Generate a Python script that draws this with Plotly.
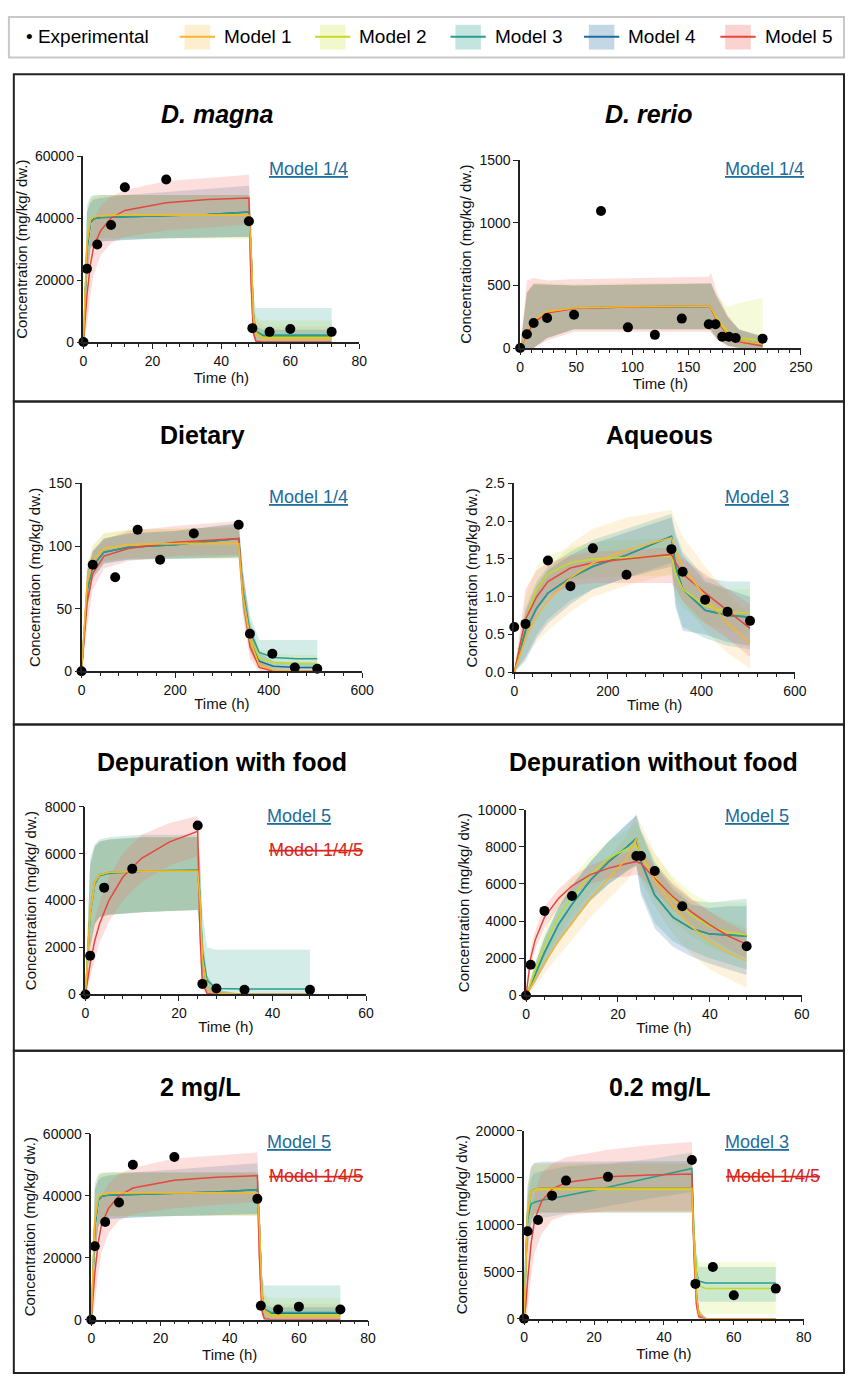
import plotly.graph_objects as go

W, H = 855, 1382

MODEL_NAMES = ["Model 1", "Model 2", "Model 3", "Model 4", "Model 5"]
LINE_COLORS = ["#F7B52C", "#C5DA22", "#2A9D8F", "#1E6C9B", "#E6463C"]
FILL_COLORS = ["rgba(253,205,120,0.25)", "rgba(215,235,110,0.25)", "rgba(60,170,150,0.22)",
               "rgba(40,110,160,0.20)", "rgba(240,110,100,0.22)"]
SWATCH_COLORS = ["rgba(253,205,120,0.35)", "rgba(215,235,110,0.35)", "rgba(60,170,150,0.3)",
                 "rgba(40,110,160,0.28)", "rgba(240,110,100,0.3)"]

# --- D. magna / 2 mg/L (same data set) ---
DM_T = [0, 1, 2, 3, 5, 8, 12, 24, 36, 48, 48.6, 49.3, 50, 52, 60, 72]
DM_EXP_X = [0, 1, 4, 8, 12, 24, 48, 49, 54, 60, 72]
DM_EXP_Y = [0, 23700, 31500, 37800, 50000, 52500, 39000, 4500, 3300, 4200, 3300]
DM_MID = [
    [0, 32000, 39500, 40500, 40800, 40900, 41000, 41000, 41000, 41000, 30000, 8000, 2500, 1000, 1000, 1000],
    [0, 32000, 39500, 40500, 40800, 40900, 41000, 41000, 41000, 41000, 30000, 8500, 3000, 1600, 1600, 1600],
    [0, 30000, 38500, 39800, 40200, 40300, 40400, 40700, 41200, 42000, 30000, 9000, 3500, 2300, 2300, 2300],
    [0, 30000, 38500, 39800, 40200, 40300, 40400, 40700, 41200, 42000, 30000, 8000, 3000, 2000, 2000, 2000],
    [0, 15000, 25000, 31000, 36000, 40000, 42500, 45000, 46000, 46500, 20000, 3000, 300, 0, 0, 0],
]
DM_LO = [
    [0, 20000, 30000, 33000, 33500, 33500, 33500, 33500, 33500, 33500, 15000, 2000, 0, 0, 0, 0],
    [0, 20000, 30000, 33000, 33500, 33500, 33500, 33500, 33500, 33500, 15000, 2000, 0, 0, 0, 0],
    [0, 20000, 30000, 32000, 32500, 32800, 33000, 33500, 33800, 34000, 15000, 3000, 500, 0, 0, 0],
    [0, 20000, 30000, 32000, 32500, 32800, 33000, 33500, 33800, 34000, 15000, 2000, 0, 0, 0, 0],
    [0, 5000, 15000, 22000, 28000, 32000, 34000, 36000, 37000, 38000, 10000, 1000, 0, 0, 0, 0],
]
DM_HI = [
    [0, 42000, 46000, 47000, 47500, 47500, 47500, 47500, 47500, 47500, 40000, 15000, 8000, 5000, 5000, 5000],
    [0, 42000, 46000, 47000, 47500, 47500, 47500, 47500, 47500, 47500, 40000, 15000, 8000, 7000, 7000, 7000],
    [0, 44000, 47000, 47500, 47500, 47500, 47500, 47500, 47500, 47500, 40000, 15000, 11000, 11000, 11000, 11000],
    [0, 42000, 45000, 46000, 46500, 47000, 47500, 48500, 49500, 50500, 40000, 12000, 5000, 4000, 4000, 4000],
    [0, 25000, 35000, 40000, 44000, 47000, 49000, 52000, 53000, 54000, 35000, 6000, 1000, 500, 500, 500],
]

# --- D. rerio ---
DR_T = [0, 6, 12, 24, 48, 96, 168, 170, 175, 185, 195, 216]
DR_EXP_X = [0, 6, 12, 24, 48, 72, 96, 120, 144, 168, 174, 180, 186, 192, 216]
DR_EXP_Y = [0, 110, 200, 240, 265, 1095, 165, 105, 235, 190, 190, 90, 90, 80, 75]
DR_MID = [
    [0, 130, 220, 290, 320, 330, 335, 320, 230, 110, 60, 30],
    [0, 130, 220, 290, 320, 330, 335, 320, 240, 130, 80, 60],
    [0, 125, 215, 285, 318, 328, 333, 318, 228, 108, 58, 28],
    [0, 128, 218, 288, 319, 329, 334, 319, 229, 109, 59, 29],
    [0, 110, 200, 280, 315, 328, 335, 320, 220, 100, 50, 15],
]
DR_LO = [
    [0, 0, 0, 80, 150, 150, 150, 140, 80, 20, 0, 0],
    [0, 0, 0, 80, 150, 150, 150, 140, 80, 20, 0, 0],
    [0, 0, 0, 80, 150, 150, 150, 140, 80, 20, 0, 0],
    [0, 0, 0, 80, 150, 150, 150, 140, 80, 20, 0, 0],
    [0, 0, 0, 60, 130, 130, 130, 120, 70, 10, 0, 0],
]
DR_HI = [
    [0, 450, 520, 510, 500, 510, 510, 520, 420, 250, 150, 100],
    [0, 450, 520, 520, 510, 520, 520, 520, 420, 330, 360, 400],
    [0, 440, 510, 505, 500, 505, 510, 515, 410, 245, 145, 95],
    [0, 440, 510, 505, 500, 505, 510, 515, 410, 245, 145, 95],
    [0, 540, 560, 540, 550, 560, 570, 600, 450, 260, 150, 80],
]

# --- Dietary ---
DI_T = [0, 12, 24, 48, 100, 200, 336, 345, 360, 380, 410, 460, 504]
DI_EXP_X = [0, 24, 72, 120, 168, 240, 336, 360, 408, 456, 504]
DI_EXP_Y = [0, 85, 75, 113, 89, 110, 117, 30, 14, 3, 2]
DI_MID = [
    [0, 70, 88, 98, 101, 102, 102, 60, 25, 5, 1, 0, 0],
    [0, 70, 88, 98, 101, 102, 102, 60, 28, 10, 7, 6, 6],
    [0, 65, 84, 95, 99, 101, 106, 65, 32, 15, 11, 10, 10],
    [0, 65, 84, 95, 99, 101, 106, 62, 28, 8, 4, 3, 3],
    [0, 55, 78, 92, 98, 103, 106, 60, 20, 3, 0, 0, 0],
]
DI_LO = [
    [0, 55, 78, 88, 90, 90, 90, 50, 15, 2, 0, 0, 0],
    [0, 55, 78, 88, 90, 90, 90, 50, 18, 4, 2, 1, 1],
    [0, 50, 74, 86, 89, 90, 91, 50, 20, 5, 2, 2, 2],
    [0, 50, 74, 86, 89, 90, 91, 48, 16, 3, 1, 1, 1],
    [0, 35, 65, 82, 88, 92, 93, 45, 10, 0, 0, 0, 0],
]
DI_HI = [
    [0, 85, 100, 110, 113, 114, 115, 75, 35, 10, 3, 1, 1],
    [0, 85, 100, 110, 113, 114, 115, 80, 40, 18, 14, 13, 13],
    [0, 80, 96, 106, 110, 112, 118, 80, 45, 25, 25, 25, 25],
    [0, 80, 96, 106, 110, 112, 118, 78, 40, 15, 8, 7, 7],
    [0, 80, 95, 105, 112, 116, 120, 80, 35, 8, 2, 1, 1],
]

# --- Aqueous ---
AQ_T = [0, 24, 48, 72, 120, 168, 240, 336, 345, 360, 408, 456, 504]
AQ_EXP_X = [0, 24, 72, 120, 168, 240, 336, 360, 408, 456, 504]
AQ_EXP_Y = [0.6, 0.64, 1.48, 1.14, 1.64, 1.29, 1.63, 1.33, 0.96, 0.8, 0.68]
AQ_MID = [
    [0, 0.45, 0.75, 0.95, 1.25, 1.45, 1.62, 1.78, 1.6, 1.4, 1.0, 0.65, 0.38],
    [0, 0.7, 1.1, 1.3, 1.45, 1.5, 1.52, 1.54, 1.3, 1.1, 0.88, 0.8, 0.78],
    [0, 0.55, 0.85, 1.05, 1.25, 1.4, 1.55, 1.8, 1.4, 1.1, 0.82, 0.75, 0.73],
    [0, 0.55, 0.85, 1.05, 1.25, 1.4, 1.55, 1.8, 1.4, 1.1, 0.82, 0.75, 0.73],
    [0, 0.7, 1.0, 1.2, 1.38, 1.45, 1.5, 1.56, 1.45, 1.3, 1.05, 0.82, 0.58],
]
AQ_LO = [
    [0, 0.2, 0.4, 0.55, 0.8, 1.0, 1.15, 1.3, 1.15, 0.95, 0.55, 0.25, 0.05],
    [0, 0.4, 0.85, 1.1, 1.22, 1.25, 1.27, 1.28, 1.0, 0.85, 0.65, 0.55, 0.5],
    [0, 0.2, 0.5, 0.7, 0.95, 1.1, 1.25, 1.45, 0.9, 0.6, 0.45, 0.35, 0.3],
    [0, 0.15, 0.45, 0.65, 0.9, 1.1, 1.25, 1.4, 0.85, 0.55, 0.5, 0.4, 0.35],
    [0, 0.4, 0.8, 1.0, 1.15, 1.18, 1.18, 1.18, 1.1, 0.95, 0.65, 0.45, 0.2],
]
AQ_HI = [
    [0, 0.7, 1.1, 1.35, 1.7, 1.9, 2.05, 2.15, 2.0, 1.8, 1.4, 1.05, 0.75],
    [0, 1.0, 1.4, 1.55, 1.65, 1.72, 1.75, 1.78, 1.6, 1.4, 1.15, 1.1, 1.1],
    [0, 0.85, 1.2, 1.4, 1.6, 1.75, 1.9, 2.1, 1.85, 1.6, 1.25, 1.2, 1.2],
    [0, 0.8, 1.15, 1.35, 1.55, 1.7, 1.85, 2.05, 1.8, 1.55, 1.2, 1.1, 1.0],
    [0, 1.1, 1.35, 1.45, 1.55, 1.6, 1.62, 1.65, 1.6, 1.5, 1.3, 1.1, 0.9],
]

# --- Depuration with food ---
DF_T = [0, 1, 2, 3, 5, 8, 12, 18, 24, 24.5, 25, 26, 28, 34, 48]
DF_EXP_X = [0, 1, 4, 10, 24, 25, 28, 34, 48]
DF_EXP_Y = [0, 1650, 4550, 5350, 7200, 450, 250, 200, 200]
DF_MID = [
    [0, 3500, 4800, 5100, 5200, 5230, 5250, 5250, 5250, 4000, 1500, 300, 50, 0, 0],
    [0, 3500, 4800, 5100, 5200, 5230, 5250, 5250, 5250, 4000, 1500, 300, 50, 0, 0],
    [0, 3400, 4700, 5050, 5150, 5200, 5250, 5280, 5300, 4200, 1800, 600, 250, 230, 230],
    [0, 3500, 4800, 5100, 5200, 5230, 5250, 5250, 5250, 4000, 1500, 300, 50, 0, 0],
    [0, 1300, 2300, 3000, 4000, 5000, 5800, 6500, 6950, 2500, 500, 50, 0, 0, 0],
]
DF_LO = [
    [0, 2000, 3000, 3300, 3400, 3450, 3500, 3550, 3600, 2500, 800, 100, 0, 0, 0],
    [0, 2000, 3000, 3300, 3400, 3450, 3500, 3550, 3600, 2500, 800, 100, 0, 0, 0],
    [0, 2000, 3000, 3300, 3400, 3450, 3500, 3550, 3600, 2500, 800, 100, 0, 0, 0],
    [0, 2000, 3000, 3300, 3400, 3450, 3500, 3550, 3600, 2500, 800, 100, 0, 0, 0],
    [0, 700, 1500, 2200, 3100, 4000, 4800, 5500, 5900, 1500, 200, 0, 0, 0, 0],
]
DF_HI = [
    [0, 5500, 6300, 6500, 6600, 6650, 6700, 6700, 6700, 5500, 2500, 800, 200, 0, 0],
    [0, 5500, 6300, 6500, 6600, 6650, 6700, 6700, 6700, 5500, 2500, 800, 200, 0, 0],
    [0, 5800, 6400, 6600, 6700, 6750, 6800, 6800, 6800, 5800, 3500, 2000, 1900, 1900, 1900],
    [0, 5500, 6300, 6500, 6600, 6650, 6700, 6700, 6700, 5500, 2500, 800, 200, 0, 0],
    [0, 2000, 3200, 3900, 5000, 6000, 6800, 7300, 7600, 4000, 1000, 200, 0, 0, 0],
]

# --- Depuration without food ---
DN_T = [0, 1, 2, 4, 7, 10, 14, 18, 22, 24, 25, 28, 32, 36, 40, 44, 48]
DN_EXP_X = [0, 1, 4, 10, 24, 25, 28, 34, 48]
DN_EXP_Y = [0, 1650, 4550, 5350, 7500, 7500, 6700, 4800, 2650]
DN_MID = [
    [0, 450, 900, 1750, 2900, 3900, 5200, 6300, 7400, 8450, 7600, 6200, 4800, 3700, 2900, 2300, 1850],
    [0, 700, 1400, 2700, 4200, 5300, 6500, 7400, 7900, 8050, 7500, 6400, 5200, 4300, 3700, 3400, 3250],
    [0, 600, 1200, 2300, 3800, 4900, 6200, 7200, 8000, 8450, 7200, 5400, 4200, 3600, 3300, 3250, 3200],
    [0, 600, 1200, 2300, 3800, 4900, 6200, 7200, 8000, 8450, 7200, 5400, 4200, 3600, 3300, 3250, 3200],
    [0, 2000, 3000, 4200, 5200, 5900, 6500, 6850, 7100, 7200, 7100, 6300, 5300, 4500, 3800, 3200, 2750],
]
DN_LO = [
    [0, 200, 500, 1200, 2100, 3000, 4200, 5200, 6200, 7000, 6200, 4800, 3300, 2200, 1400, 900, 400],
    [0, 400, 900, 2000, 3200, 4300, 5500, 6400, 6800, 6900, 6300, 5200, 4000, 3200, 2600, 2200, 2000],
    [0, 300, 700, 1600, 2900, 3900, 5100, 6000, 6700, 7000, 5600, 3900, 2900, 2400, 2000, 1700, 1400],
    [0, 300, 700, 1600, 2900, 3900, 5100, 6000, 6700, 7000, 5400, 3600, 2600, 2100, 1700, 1400, 1100],
    [0, 1500, 2500, 3600, 4700, 5400, 6000, 6300, 6400, 6500, 6400, 5600, 4600, 3800, 3100, 2500, 2000],
]
DN_HI = [
    [0, 700, 1300, 2300, 3700, 4800, 6200, 7400, 8600, 9800, 9200, 7700, 6200, 5200, 4500, 4000, 3600],
    [0, 1000, 1900, 3500, 5200, 6300, 7500, 8300, 8900, 9300, 8800, 7600, 6400, 5500, 5000, 5000, 5000],
    [0, 900, 1700, 3100, 4700, 5900, 7200, 8300, 9200, 9700, 8900, 7200, 5900, 5100, 5000, 5100, 5200],
    [0, 900, 1700, 3100, 4700, 5900, 7200, 8300, 9200, 9700, 8800, 7000, 5700, 4900, 4700, 4800, 4800],
    [0, 2500, 3500, 4800, 5700, 6400, 7000, 7400, 7700, 7900, 7800, 7000, 6000, 5200, 4500, 3900, 3400],
]

# --- 0.2 mg/L ---
LC_T = [0, 0.5, 1, 2, 3, 5, 8, 12, 24, 36, 48, 48.6, 49.3, 50, 52, 60, 72]
LC_EXP_X = [0, 1, 4, 8, 12, 24, 48, 49, 54, 60, 72]
LC_EXP_Y = [0, 9300, 10500, 13100, 14700, 15100, 16900, 3700, 5500, 2500, 3200]
LC_MID = [
    [0, 6000, 11000, 13500, 13800, 13900, 13900, 13900, 13900, 13900, 13900, 8000, 2500, 500, 0, 0, 0],
    [0, 6500, 11500, 13500, 13700, 13750, 13750, 13750, 13750, 13750, 13750, 9000, 5000, 3500, 3200, 3200, 3200],
    [0, 7000, 10500, 12200, 12400, 12600, 12800, 13100, 14000, 15000, 16000, 9000, 5000, 4000, 3800, 3800, 3800],
    [0, 6000, 11000, 13500, 13800, 13900, 13900, 13900, 13900, 13900, 13900, 8000, 2500, 500, 0, 0, 0],
    [0, 1500, 4000, 8000, 10500, 12500, 13800, 14500, 15100, 15300, 15400, 7000, 1500, 200, 0, 0, 0],
]
LC_LO = [
    [0, 3000, 7000, 10500, 11200, 11300, 11300, 11300, 11300, 11300, 11300, 5000, 1000, 0, 0, 0, 0],
    [0, 3500, 7500, 10500, 11200, 11300, 11300, 11300, 11300, 11300, 11300, 5000, 1500, 600, 500, 500, 500],
    [0, 4000, 8000, 10000, 10500, 10700, 10900, 11200, 12000, 12800, 13500, 5000, 2500, 1800, 1800, 1800, 1800],
    [0, 3000, 7000, 10500, 11200, 11300, 11300, 11300, 11300, 11300, 11300, 5000, 1000, 0, 0, 0, 0],
    [0, 0, 1000, 4500, 7000, 9000, 10500, 11000, 11500, 11500, 11500, 4000, 500, 0, 0, 0, 0],
]
LC_HI = [
    [0, 9000, 14000, 16000, 16500, 16500, 16500, 16500, 16500, 16500, 16500, 10000, 4000, 1000, 0, 0, 0],
    [0, 9500, 14500, 16000, 16500, 16500, 16500, 16500, 16500, 16500, 16500, 11000, 7000, 6000, 6000, 6000, 6000],
    [0, 10000, 13000, 15000, 15500, 15700, 15900, 16200, 16500, 17000, 17700, 10000, 7000, 5500, 5500, 5500, 5500],
    [0, 9000, 14000, 16200, 16600, 16700, 16700, 16700, 16700, 16750, 16800, 10000, 4000, 1000, 0, 0, 0],
    [0, 3000, 7000, 11000, 13500, 15500, 16500, 17200, 18000, 18500, 18800, 10000, 3000, 500, 0, 0, 0],
]

TITLES = ["<i>D. magna</i>", "<i>D. rerio</i>", "Dietary", "Aqueous",
          "Depuration with food", "Depuration without food", "2 mg/L", "0.2 mg/L"]
X_MAX = [80, 250, 600, 600, 60, 60, 80, 80]
Y_MAX = [60000, 1500, 150, 2.5, 8000, 10000, 60000, 20000]
Y_DTICK = [20000, 500, 50, 0.5, 2000, 2000, 20000, 5000]
X_DTICK = [20, 50, 200, 200, 20, 20, 20, 20]
Y_FORMAT = ["d", "d", "d", ".1f", "d", "d", "d", "d"]
BEST = ["Model 1/4", "Model 1/4", "Model 1/4", "Model 3", "Model 5", "Model 5", "Model 5", "Model 3"]
REJECTED = [None, None, None, None, "Model 1/4/5", None, "Model 1/4/5", "Model 1/4/5"]

PANEL_DATA = [
    (DM_T, DM_EXP_X, DM_EXP_Y, DM_MID, DM_LO, DM_HI),
    (DR_T, DR_EXP_X, DR_EXP_Y, DR_MID, DR_LO, DR_HI),
    (DI_T, DI_EXP_X, DI_EXP_Y, DI_MID, DI_LO, DI_HI),
    (AQ_T, AQ_EXP_X, AQ_EXP_Y, AQ_MID, AQ_LO, AQ_HI),
    (DF_T, DF_EXP_X, DF_EXP_Y, DF_MID, DF_LO, DF_HI),
    (DN_T, DN_EXP_X, DN_EXP_Y, DN_MID, DN_LO, DN_HI),
    (DM_T, DM_EXP_X, DM_EXP_Y, DM_MID, DM_LO, DM_HI),
    (LC_T, LC_EXP_X, LC_EXP_Y, LC_MID, LC_LO, LC_HI),
]

# plot areas in pixels: x0, x1, ytop, ybottom
AREAS = [(81, 362, 150, 338), (526, 812, 154, 344),
         (79, 365, 481, 671), (520, 806, 481, 672),
         (83, 369, 808, 998), (532, 813, 811, 999),
         (89, 371, 1139, 1327), (530, 815, 1136, 1326)]
TITLE_POS = [(218, 107), (657, 107), (202, 432), (668, 432),
             (222, 763), (662, 763), (200, 1092), (668, 1092)]
BEST_POS = [(310, 163), (775, 163), (310, 495), (767, 495),
            (301, 817), (767, 817), (301, 1147), (767, 1147)]
LEGEND_SWATCH_X = [182, 320, 458, 594, 733]


def px(x):
    return x / W


def py(y):
    return 1 - y / H


fig = go.Figure()
FONT = "Liberation Sans, Arial"
annotations = []
shapes = []


def note(text, x, y, size, color="black", xanchor="center"):
    annotations.append(dict(text=text, x=px(x), y=py(y), xref="paper", yref="paper",
                            xanchor=xanchor, yanchor="middle", showarrow=False,
                            font=dict(size=size, color=color, family=FONT)))


for i, (t, ex, ey, mid, lo, hi) in enumerate(PANEL_DATA):
    n = i + 1
    xa, ya = f"x{n}", f"y{n}"
    for m in range(5):
        fig.add_trace(go.Scatter(x=t, y=lo[m], mode="lines", line=dict(width=0),
                                 xaxis=xa, yaxis=ya, showlegend=False, hoverinfo="skip"))
        fig.add_trace(go.Scatter(x=t, y=hi[m], mode="lines", line=dict(width=0),
                                 fill="tonexty", fillcolor=FILL_COLORS[m],
                                 xaxis=xa, yaxis=ya, showlegend=False, hoverinfo="skip"))
    for m in [3, 2, 1, 4, 0]:
        fig.add_trace(go.Scatter(x=t, y=mid[m], mode="lines", name=MODEL_NAMES[m],
                                 line=dict(color=LINE_COLORS[m], width=1.5),
                                 xaxis=xa, yaxis=ya, showlegend=False))
    fig.add_trace(go.Scatter(x=ex, y=ey, mode="markers", marker=dict(color="black", size=10),
                             cliponaxis=False, xaxis=xa, yaxis=ya, showlegend=False))

    x0, x1, yt, yb = AREAS[i]
    axis_common = dict(showline=True, linecolor="#222", linewidth=1.5, ticks="outside",
                       ticklen=5, tickcolor="#222", showgrid=False, zeroline=False,
                       tickfont=dict(size=14, color="#111", family=FONT))
    fig.layout[f"xaxis{n}"] = dict(axis_common, domain=[px(x0), px(x1)], anchor=ya,
                                   range=[0, X_MAX[i]], dtick=X_DTICK[i],
                                   minor=dict(ticks="outside", ticklen=3, dtick=X_DTICK[i] / 5,
                                              tickcolor="#222"),
                                   title=dict(text="Time (h)", standoff=2,
                                              font=dict(size=15, color="#111", family=FONT)))
    fig.layout[f"yaxis{n}"] = dict(axis_common, domain=[py(yb), py(yt)], anchor=xa,
                                   range=[0, Y_MAX[i]], dtick=Y_DTICK[i], tickformat=Y_FORMAT[i],
                                   title=dict(text="Concentration (mg/kg/ dw.)", standoff=4,
                                              font=dict(size=15, color="#111", family=FONT)))

    tx, ty = TITLE_POS[i]
    note(f"<b>{TITLES[i]}</b>", tx, ty, 25)
    bx, by = BEST_POS[i]
    note(f"<u>{BEST[i]}</u>", bx, by, 18, "#1E6C9B")
    if REJECTED[i]:
        note(f"<s>{REJECTED[i]}</s>", bx + 17, by + 35, 18, "#D9261C")

# row boxes
for top, bottom in [(67, 398), (398, 725), (725, 1055), (1055, 1381)]:
    shapes.append(dict(type="rect", xref="paper", yref="paper", x0=px(10), x1=px(856),
                       y0=py(bottom), y1=py(top), line=dict(color="#222", width=2)))

# legend box
shapes.append(dict(type="rect", xref="paper", yref="paper", x0=px(5), x1=px(856),
                   y0=py(50), y1=py(9), line=dict(color="#c8c8c8", width=2)))
note("• Experimental", 20, 29, 19, xanchor="left")
for m, sx in enumerate(LEGEND_SWATCH_X):
    shapes.append(dict(type="rect", xref="paper", yref="paper", x0=px(sx + 2), x1=px(sx + 28),
                       y0=py(42), y1=py(17), line=dict(width=0), fillcolor=SWATCH_COLORS[m]))
    shapes.append(dict(type="line", xref="paper", yref="paper", x0=px(sx - 3), x1=px(sx + 33),
                       y0=py(29), y1=py(29), line=dict(color=LINE_COLORS[m], width=2)))
    note(MODEL_NAMES[m], sx + 40, 29, 19, xanchor="left")

fig.update_layout(autosize=True, margin=dict(l=0, r=0, t=0, b=0),
                  plot_bgcolor="white", paper_bgcolor="white",
                  annotations=annotations, shapes=shapes, showlegend=False)

fig.write_html("out.html", config={"displayModeBar": False, "responsive": True},
               default_width="100vw", default_height="100vh",
               post_script="document.body.style.margin='0';"
                           "document.body.style.overflow='hidden';"
                           "document.documentElement.style.overflow='hidden';"
                           "Plotly.Plots.resize(document.getElementsByClassName('plotly-graph-div')[0]);")
